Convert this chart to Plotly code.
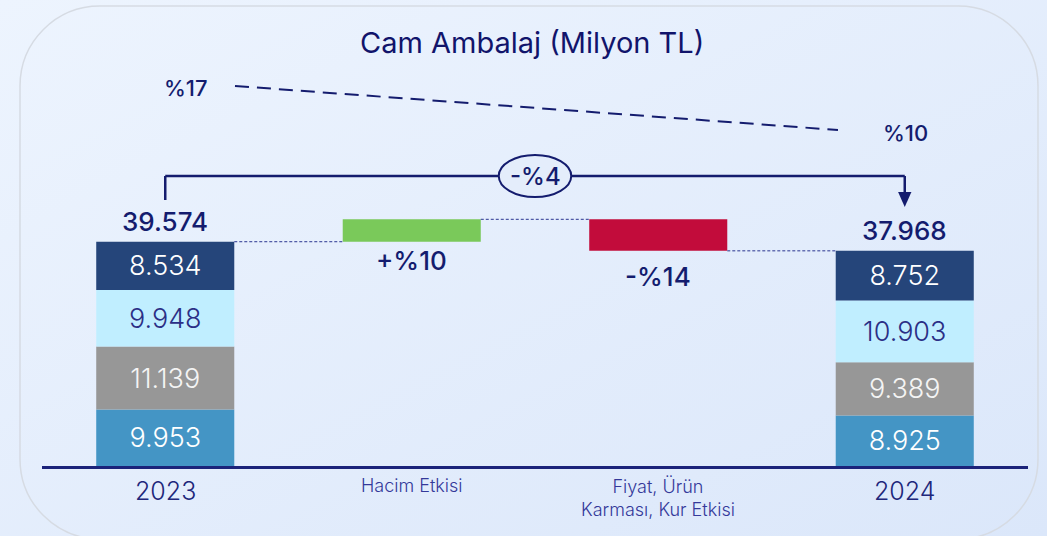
import base64
import plotly.graph_objects as go

# ---------------- data ----------------
categories = ["2023", "Hacim Etkisi", "Fiyat, Ürün<br>Karması, Kur Etkisi", "2024"]
seg_2023 = [9953, 11139, 9948, 8534]      # bottom -> top
seg_2024 = [8925, 9389, 10903, 8752]      # bottom -> top
totals = [39574, 37968]
hacim_effect = 3957
fiyat_effect = -5563
effect_labels = ["+%10", "-%14"]
total_change_label = "-%4"
margin_labels = ["%17", "%10"]
title_text = "Cam Ambalaj (Milyon TL)"

# ---------------- styles ----------------
seg_colors = ["#4495c5", "#979797", "#c0eeff", "#25457a"]
seg_text_colors = ["#ffffff", "#f4f4f4", "#2b2f86", "#ffffff"]
NAVY = "#141c6e"
LABEL = "#34399a"
FONT = "Inter"

L, R, T, B = 42, 1028, 20, 466
W, H = 1047, 536
YMAX = 78700
BAR_W = 0.56


def fmt(v):
    return f"{v:,}".replace(",", ".")


def px2x(px):
    return (px - L) / (R - L)


def py2y(py):
    return (B - py) / (B - T)


def dx(px):  # pixel -> data x
    return (px - L) / (R - L) * 4 - 0.5


def dy(py):  # pixel -> data y
    return (B - py) / (B - T) * YMAX


fig = go.Figure()

# stacked segments for 2023 and 2024
base23 = 0
base24 = 0
for i in range(len(seg_2023)):
    fig.add_trace(go.Bar(
        x=[0, 3], y=[seg_2023[i], seg_2024[i]], base=[base23, base24],
        width=BAR_W, marker=dict(color=seg_colors[i], line=dict(width=0)),
        text=[fmt(seg_2023[i]), fmt(seg_2024[i])],
        textposition="inside", insidetextanchor="middle", textangle=0,
        textfont=dict(family=FONT, size=27, color=seg_text_colors[i], weight=300),
        hoverinfo="skip", showlegend=False,
    ))
    base23 += seg_2023[i]
    base24 += seg_2024[i]

peak = totals[0] + hacim_effect
fig.add_trace(go.Bar(x=[1], y=[hacim_effect], base=[totals[0]], width=BAR_W,
                     marker=dict(color="#7ac95a", line=dict(width=0)),
                     hoverinfo="skip", showlegend=False))
fig.add_trace(go.Bar(x=[2], y=[fiyat_effect], base=[peak], width=BAR_W,
                     marker=dict(color="#c20c3b", line=dict(width=0)),
                     hoverinfo="skip", showlegend=False))

shapes = []
# connectors
hw = BAR_W / 2
conn = dict(type="line", xref="x", yref="y", line=dict(color="#2a3590", width=1, dash="3px,2px"))
shapes.append(dict(conn, x0=0 + hw, x1=1 - hw, y0=totals[0], y1=totals[0]))
shapes.append(dict(conn, x0=1 + hw, x1=2 - hw, y0=peak, y1=peak))
shapes.append(dict(conn, x0=2 + hw, x1=3 - hw, y0=totals[1], y1=totals[1]))

# margin trend dashed line
shapes.append(dict(type="line", xref="x", yref="y", x0=dx(235), x1=dx(838), y0=dy(86), y1=dy(130),
                   line=dict(color=NAVY, width=2, dash="14px,8px")))

# bracket
by = dy(176)
br = dict(type="line", xref="x", yref="y", line=dict(color=NAVY, width=2.5))
shapes.append(dict(br, x0=0, x1=0, y0=by, y1=dy(200)))
shapes.append(dict(br, x0=0, x1=3, y0=by, y1=by))
shapes.append(dict(br, x0=3, x1=3, y0=by, y1=dy(195)))
shapes.append(dict(type="path", xref="x", yref="y",
                   path=f"M {3 - 0.027},{dy(192)} L {3 + 0.027},{dy(192)} L 3,{dy(207)} Z",
                   fillcolor=NAVY, line=dict(width=0)))
shapes.append(dict(type="circle", xref="x", yref="y", x0=1.5 - 0.147, x1=1.5 + 0.147,
                   y0=by - dy(466 - 21), y1=by + dy(466 - 21),
                   fillcolor="#e4edfb", line=dict(color=NAVY, width=2)))

# rounded outer border (pixels -> paper)
rl, rr, rt, rb, rad = 20, 1038, 6, 539, 80
k = 0.5523 * rad
pts = [
    f"M {px2x(rl + rad)},{py2y(rt)}",
    f"L {px2x(rr - rad)},{py2y(rt)}",
    f"C {px2x(rr - rad + k)},{py2y(rt)} {px2x(rr)},{py2y(rt + rad - k)} {px2x(rr)},{py2y(rt + rad)}",
    f"L {px2x(rr)},{py2y(rb - rad)}",
    f"C {px2x(rr)},{py2y(rb - rad + k)} {px2x(rr - rad + k)},{py2y(rb)} {px2x(rr - rad)},{py2y(rb)}",
    f"L {px2x(rl + rad)},{py2y(rb)}",
    f"C {px2x(rl + rad - k)},{py2y(rb)} {px2x(rl)},{py2y(rb - rad + k)} {px2x(rl)},{py2y(rb - rad)}",
    f"L {px2x(rl)},{py2y(rt + rad)}",
    f"C {px2x(rl)},{py2y(rt + rad - k)} {px2x(rl + rad - k)},{py2y(rt)} {px2x(rl + rad)},{py2y(rt)} Z",
]
shapes.insert(0, dict(type="path", xref="paper", yref="paper", path=" ".join(pts),
                      fillcolor="rgba(0,0,0,0)", line=dict(color="#d6dbe3", width=1.5), layer="below"))

ann = []
ann.append(dict(text=title_text, xref="paper", yref="paper", x=px2x(532), y=py2y(42),
                showarrow=False, font=dict(family=FONT, size=29, color="#11146b", weight=400),
                xanchor="center", yanchor="middle"))
ann.append(dict(text=margin_labels[0], xref="x", yref="y", x=dx(186), y=dy(88), showarrow=False,
                font=dict(family=FONT, size=22, color=NAVY, weight=500)))
ann.append(dict(text=margin_labels[1], xref="x", yref="y", x=dx(905), y=dy(133), showarrow=False,
                font=dict(family=FONT, size=22, color=NAVY, weight=500)))
ann.append(dict(text=total_change_label, xref="x", yref="y", x=1.5, y=by, showarrow=False,
                font=dict(family=FONT, size=24, color=NAVY, weight=500)))
for i, xi in enumerate([0, 3]):
    ann.append(dict(text=fmt(totals[i]), xref="x", yref="y", x=xi, y=totals[i], yanchor="bottom", yshift=3,
                    showarrow=False, font=dict(family=FONT, size=26, color=NAVY, weight=500)))
ann.append(dict(text=effect_labels[0], xref="x", yref="y", x=1, y=totals[0], yanchor="top", yshift=-1,
                showarrow=False, font=dict(family=FONT, size=26, color=NAVY, weight=500)))
ann.append(dict(text=effect_labels[1], xref="x", yref="y", x=2, y=totals[1], yanchor="top", yshift=-8,
                showarrow=False, font=dict(family=FONT, size=26, color=NAVY, weight=500)))
# category labels
for i, c in enumerate(categories):
    if i in (0, 3):
        ann.append(dict(text=c, xref="x", yref="paper", x=i, y=py2y(491), yanchor="middle", showarrow=False,
                        font=dict(family=FONT, size=25, color="#20267a", weight=300)))
    else:
        ann.append(dict(text=c, xref="x", yref="paper", x=i, y=py2y(473), yanchor="top", showarrow=False,
                        font=dict(family=FONT, size=18, color=LABEL, weight=300)))

svg = ('<svg xmlns="http://www.w3.org/2000/svg" width="1047" height="536">'
       '<defs><linearGradient id="g" x1="0" y1="0" x2="1" y2="1">'
       '<stop offset="0" stop-color="#edf4fe"/><stop offset="1" stop-color="#dbe7fa"/>'
       '</linearGradient></defs><rect width="1047" height="536" fill="url(#g)"/></svg>')
src = "data:image/svg+xml;base64," + base64.b64encode(svg.encode()).decode()

fig.update_layout(
    width=W, height=H,
    margin=dict(l=L, r=W - R, t=T, b=H - B, pad=0),
    barmode="overlay",
    separators=",.",
    paper_bgcolor="#e4edfb", plot_bgcolor="rgba(0,0,0,0)",
    xaxis=dict(range=[-0.5, 3.5], showticklabels=False, showgrid=False, zeroline=False,
               showline=True, linecolor="#1b237a", linewidth=2.5, ticks="", fixedrange=True),
    yaxis=dict(range=[0, YMAX], visible=False, fixedrange=True),
    shapes=shapes, annotations=ann,
    images=[dict(source=src, xref="paper", yref="paper", x=px2x(0), y=py2y(0),
                 sizex=W / (R - L), sizey=H / (B - T), sizing="stretch",
                 xanchor="left", yanchor="top", layer="below")],
    showlegend=False,
)

fig.write_html("out.html", config={"displayModeBar": False},
               post_script="document.body.style.margin='0';document.body.style.overflow='hidden';")
